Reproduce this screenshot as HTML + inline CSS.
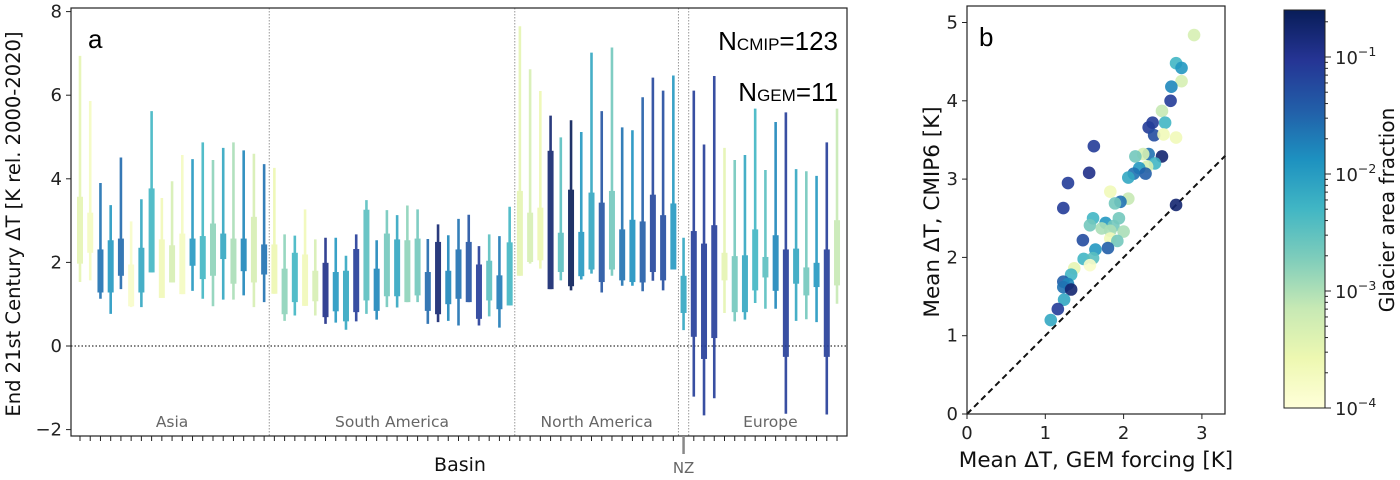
<!DOCTYPE html>
<html><head><meta charset="utf-8">
<style>
html,body{margin:0;padding:0;background:#fff;}
svg{display:block;font-family:"DejaVu Sans","Liberation Sans",sans-serif;}
</style></head>
<body>
<svg id="fig" width="1400" height="480" viewBox="0 0 1400 480" xmlns="http://www.w3.org/2000/svg">
<defs>
<linearGradient id="cbgrad" x1="0" y1="1" x2="0" y2="0">
<stop offset="0" stop-color="#ffffd9"/><stop offset="0.125" stop-color="#edf8b1"/><stop offset="0.25" stop-color="#c7e9b4"/><stop offset="0.375" stop-color="#7fcdbb"/><stop offset="0.5" stop-color="#41b6c4"/><stop offset="0.625" stop-color="#1d91c0"/><stop offset="0.75" stop-color="#225ea8"/><stop offset="0.875" stop-color="#253494"/><stop offset="1" stop-color="#081d58"/>
</linearGradient>
</defs>
<g id="pa"></g>
<g id="pb"></g>
<g id="cb"></g>
</svg>
<script>
// ---------- Panel a data ----------
const regions = ["Asia","South America","North America","NZ","Europe"];
const regionCounts = [19,24,16,1,15];
const whiskerHi = [6.94,5.86,3.90,3.37,4.51,2.98,3.51,5.62,3.54,3.94,4.57,4.47,4.87,4.45,4.74,4.87,4.68,4.60,4.35,
 4.26,2.67,2.64,3.27,2.55,2.59,2.59,2.16,2.67,3.49,2.53,3.25,3.13,3.36,3.27,2.56,2.91,2.65,3.04,3.14,2.39,2.67,2.63,3.33,
 7.65,6.62,6.10,5.51,4.99,5.40,5.12,7.02,5.62,7.14,5.23,5.16,5.95,6.42,6.11,6.47,
 2.59,
 6.11,4.82,6.46,4.74,4.45,4.57,5.68,4.21,5.36,5.59,4.23,4.18,4.07,4.87,5.68];
const boxHi = [3.57,3.19,2.31,2.53,2.57,1.95,2.35,3.77,2.55,2.41,2.69,2.57,2.63,2.93,2.69,2.57,2.57,3.09,2.43,
 2.43,1.85,2.23,2.19,1.80,1.99,1.77,1.80,2.32,3.26,1.85,2.69,2.55,2.53,2.57,1.77,2.49,1.80,2.31,2.49,1.95,2.04,1.69,2.48,
 3.71,3.19,3.31,4.67,2.71,3.74,2.73,3.67,3.43,3.71,2.79,3.02,2.98,3.62,3.13,3.41,
 1.68,
 2.75,2.45,2.89,2.23,2.15,2.17,2.79,2.13,2.65,2.31,2.33,1.88,1.99,2.31,3.01];
const boxLo = [1.97,2.23,1.28,1.28,1.68,0.95,1.28,1.76,1.15,1.52,1.24,1.92,1.60,1.68,2.08,1.49,1.79,1.52,1.71,
 1.25,0.76,1.05,0.96,1.07,0.69,0.83,0.59,0.81,1.09,0.84,1.19,1.19,1.05,1.21,0.84,0.76,1.00,1.13,1.05,0.65,1.09,0.88,0.97,
 1.68,2.01,2.05,1.36,1.77,1.43,1.67,1.83,1.53,1.83,1.57,1.53,1.52,1.77,1.57,1.83,
 0.79,
 0.22,-0.31,0.19,1.57,0.81,0.81,1.33,1.64,1.32,-0.26,1.49,1.21,1.41,-0.26,1.45];
const whiskerLo = [1.53,1.57,1.13,0.77,1.36,0.93,0.93,1.76,1.15,1.52,1.24,1.32,1.13,0.95,1.11,1.11,1.21,0.93,1.05,
 1.25,0.60,0.73,0.96,0.73,0.53,0.56,0.39,0.59,0.77,0.63,0.93,0.92,1.05,1.05,0.53,0.57,0.60,0.49,1.05,0.49,0.71,0.44,0.97,
 1.68,1.97,1.85,1.36,1.57,1.33,1.59,1.73,1.28,1.68,1.44,1.44,1.31,1.56,1.33,1.83,
 0.38,
 -1.21,-1.66,-1.25,0.79,0.59,0.63,1.03,0.89,0.89,-1.62,0.60,0.64,0.57,-1.64,1.01];
const barLogFrac = [-3.49,-3.73,-1.62,-1.96,-1.55,-3.83,-2.13,-2.3,-3.66,-3.32,-3.76,-1.96,-2.3,-2.81,-2.13,-2.98,-1.79,-3.32,-1.62,
 -3.59,-2.81,-2.3,-3.66,-3.32,-0.94,-1.96,-2.13,-1.11,-2.47,-1.79,-2.64,-2.13,-2.81,-2.64,-1.55,-0.77,-1.79,-1.62,-1.35,-1.11,-2.47,-1.69,-2.3,
 -3.49,-3.32,-3.59,-0.77,-2.47,-0.6,-1.96,-2.13,-1.35,-2.64,-1.62,-1.89,-1.45,-1.21,-1.28,-1.96,
 -2.13,
 -1.11,-1.11,-1.11,-3.49,-2.64,-2.13,-2.3,-2.47,-1.79,-1.11,-2.13,-2.64,-1.96,-1.11,-3.15];
const yTicksA = [-2,0,2,4,6,8];

// ---------- Panel b data ----------
const scatX = [2.90,2.67,2.74,2.74,2.61,2.60,2.49,2.53,2.37,2.32,2.39,2.51,2.67,1.62,2.49,2.32,2.25,2.15,2.40,2.30,2.20,2.28,2.13,2.06,1.56,1.29,1.83,2.06,1.96,1.89,2.67,1.23,1.61,1.94,1.57,1.77,1.72,1.87,1.83,2.00,1.83,1.92,1.48,1.64,1.80,1.49,1.61,1.57,1.37,1.33,1.23,1.29,1.23,1.33,1.24,1.16,1.07];
const scatY = [4.84,4.48,4.42,4.25,4.18,4.00,3.87,3.72,3.72,3.66,3.56,3.57,3.53,3.42,3.29,3.32,3.32,3.29,3.20,3.16,3.14,3.07,3.07,3.02,3.08,2.95,2.84,2.75,2.71,2.69,2.67,2.63,2.50,2.50,2.41,2.44,2.37,2.40,2.34,2.33,2.24,2.21,2.22,2.10,2.12,1.98,1.99,1.90,1.86,1.78,1.69,1.66,1.62,1.59,1.46,1.34,1.20];
const scatLogFrac = [-3.32,-2.3,-1.96,-3.32,-1.79,-1.11,-3.15,-2.3,-1.11,-1.11,-1.28,-3.66,-3.66,-1.11,-0.77,-1.62,-3.32,-2.64,-2.3,-3.32,-1.96,-1.45,-1.62,-2.13,-0.94,-1.11,-3.66,-3.15,-1.62,-2.64,-0.77,-1.11,-2.3,-2.64,-2.64,-1.96,-2.98,-2.64,-2.98,-2.98,-3.66,-2.64,-1.28,-1.96,-1.45,-2.3,-2.47,-3.83,-3.49,-2.3,-1.45,-1.79,-1.62,-0.77,-2.13,-1.11,-2.13];
const xTicksB = [0,1,2,3];
const yTicksB = [0,1,2,3,4,5];
const cbTicks = [-4,-3,-2,-1];

const NS="http://www.w3.org/2000/svg";
function mk(parent,tag,attrs,text){const e=document.createElementNS(NS,tag);for(const k in attrs)e.setAttribute(k,attrs[k]);if(text!==undefined)e.textContent=text;parent.appendChild(e);return e;}
const stops=[[255,255,217],[237,248,177],[199,233,180],[127,205,187],[65,182,196],[29,145,192],[34,94,168],[37,52,148],[8,29,88]];
function cmap(logv){let t=(logv+4)/3.4;t=Math.max(0,Math.min(1,t));const p=t*8,i=Math.min(7,Math.floor(p)),f=p-i;const a=stops[i],b=stops[i+1];return `rgb(${Math.round(a[0]+(b[0]-a[0])*f)},${Math.round(a[1]+(b[1]-a[1])*f)},${Math.round(a[2]+(b[2]-a[2])*f)})`;}

// ---------- Panel a ----------
const pa=document.getElementById('pa');
const AL=71,AR=847,AT=8,AB=436;
const yA=v=>346-v*41.8;
const xA=i=>80+i*10.23;
let e=mk(pa,'line',{x1:AL,x2:AR,y1:yA(0),y2:yA(0),stroke:'#333','stroke-width':1.3,'stroke-dasharray':'1.5,2'});

let idx=0;const seps=[];
regionCounts.forEach((c,r)=>{idx+=c;if(r<regionCounts.length-1)seps.push(idx);});
seps.forEach((s,k)=>{const x=(xA(s-1)+xA(s))/2;const l=mk(pa,'line',{x1:x,x2:x,y1:AT,y2:AB,stroke:'#999','stroke-width':1,'stroke-dasharray':'1.5,1.5'});
});
for(let i=0;i<whiskerHi.length;i++){
 const col=cmap(barLogFrac[i]);const x=xA(i);
 const g=mk(pa,'g',{opacity:0.9});
 
 const w=mk(g,'line',{x1:x,x2:x,y1:yA(whiskerHi[i]),y2:yA(whiskerLo[i]),stroke:col,'stroke-width':2.6});
 
 const b=mk(g,'rect',{x:x-3,width:6,y:yA(boxHi[i]),height:yA(boxLo[i])-yA(boxHi[i]),fill:col});
 
 const t=mk(pa,'line',{x1:x,x2:x,y1:AB,y2:AB+5,stroke:'#222','stroke-width':1});
 
}
e=mk(pa,'rect',{x:AL,y:AT,width:AR-AL,height:AB-AT,fill:'none',stroke:'#222','stroke-width':1.2});

yTicksA.forEach(v=>{const t=mk(pa,'line',{x1:AL-5,x2:AL,y1:yA(v),y2:yA(v),stroke:'#222'});

const l=mk(pa,'text',{x:AL-9,y:yA(v)+6,'text-anchor':'end','font-size':18,fill:'#222'},v<0?'\u2212'+(-v):String(v));
});
let start=0;
regionCounts.forEach((c,r)=>{const cx=(xA(start)+xA(start+c-1))/2;start+=c;if(regions[r]==='NZ'){
 const t=mk(pa,'line',{x1:cx,x2:cx,y1:AB,y2:AB+18,stroke:'#888','stroke-width':2.5});
 const l=mk(pa,'text',{x:cx,y:AB+37,'text-anchor':'middle','font-size':15,fill:'#666'},'NZ');
 return;}
 const l=mk(pa,'text',{x:cx+(regions[r]==='Europe'?5:0),y:427,'text-anchor':'middle','font-size':15.5,fill:'#666'},regions[r]);
 });
e=mk(pa,'text',{x:460,y:471,'text-anchor':'middle','font-size':19,fill:'#111'},'Basin');
e=mk(pa,'text',{x:0,y:0,'text-anchor':'middle','font-size':19.5,fill:'#111',transform:'translate(20,224) rotate(-90)'},'End 21st Century \u0394T [K rel. 2000-2020]');
e=mk(pa,'text',{x:88,y:48,'font-size':26,fill:'#000','font-family':'Liberation Sans, sans-serif'},'a');
e=mk(pa,'text',{x:838,y:50,'text-anchor':'end','font-size':26,fill:'#000','font-family':'Liberation Sans, sans-serif'});
e.innerHTML='N<tspan font-size="17">CMIP</tspan>=123';
e=mk(pa,'text',{x:838,y:101,'text-anchor':'end','font-size':26,fill:'#000','font-family':'Liberation Sans, sans-serif'});
e.innerHTML='N<tspan font-size="17">GEM</tspan>=11';

// ---------- Panel b ----------
const pb=document.getElementById('pb');
const BL=967,BR=1225,BT=6,BB=414;
const xB=v=>BL+v*78.3, yB=v=>BB-v*78.3;
e=mk(pb,'line',{x1:xB(0),y1:yB(0),x2:xB(3.3),y2:yB(3.3),stroke:'#111','stroke-width':2,'stroke-dasharray':'6,4'});

for(let i=0;i<scatX.length;i++){const c=mk(pb,'circle',{cx:xB(scatX[i]),cy:yB(scatY[i]),r:6.3,fill:cmap(scatLogFrac[i]),opacity:0.9});
}
e=mk(pb,'rect',{x:BL,y:BT,width:BR-BL,height:BB-BT,fill:'none',stroke:'#222','stroke-width':1.2});

xTicksB.forEach(v=>{const t=mk(pb,'line',{x1:xB(v),x2:xB(v),y1:BB,y2:BB+5,stroke:'#222'});
const l=mk(pb,'text',{x:xB(v),y:BB+25,'text-anchor':'middle','font-size':18,fill:'#222'},String(v));});
yTicksB.forEach(v=>{const t=mk(pb,'line',{x1:BL-5,x2:BL,y1:yB(v),y2:yB(v),stroke:'#222'});
const l=mk(pb,'text',{x:BL-9,y:yB(v)+6,'text-anchor':'end','font-size':18,fill:'#222'},String(v));});
e=mk(pb,'text',{x:1096,y:467,'text-anchor':'middle','font-size':21.5,fill:'#111'},'Mean \u0394T, GEM forcing [K]');
e=mk(pb,'text',{x:0,y:0,'text-anchor':'middle','font-size':21.5,fill:'#111',transform:'translate(939,212) rotate(-90)'},'Mean \u0394T, CMIP6 [K]');
e=mk(pb,'text',{x:979,y:46,'font-size':26,fill:'#000','font-family':'Liberation Sans, sans-serif'},'b');

// ---------- Colorbar ----------
const cb=document.getElementById('cb');
const CL=1284,CR=1325,CT=10,CBm=408;
const yC=v=>CBm-(v+4)*117;
e=mk(cb,'rect',{x:CL,y:CT,width:CR-CL,height:CBm-CT,fill:'url(#cbgrad)',stroke:'#222','stroke-width':1});

cbTicks.forEach(v=>{const t=mk(cb,'line',{x1:CR,x2:CR+6,y1:yC(v),y2:yC(v),stroke:'#222'});
const l=mk(cb,'text',{x:CR+10,y:yC(v)+7,'font-size':18,fill:'#222'});
l.innerHTML='10<tspan dy="-8" font-size="12.5">\u2212'+(-v)+'</tspan>';
for(let m=2;m<=9;m++){const y=yC(v+Math.log10(m));if(y<CT)continue;const mt=mk(cb,'line',{x1:CR,x2:CR+3,y1:y,y2:y,stroke:'#222'});}});
e=mk(cb,'text',{x:0,y:0,'text-anchor':'middle','font-size':20,fill:'#111',transform:'translate(1394,210) rotate(-90)'},'Glacier area fraction');

</script>
</body></html>
